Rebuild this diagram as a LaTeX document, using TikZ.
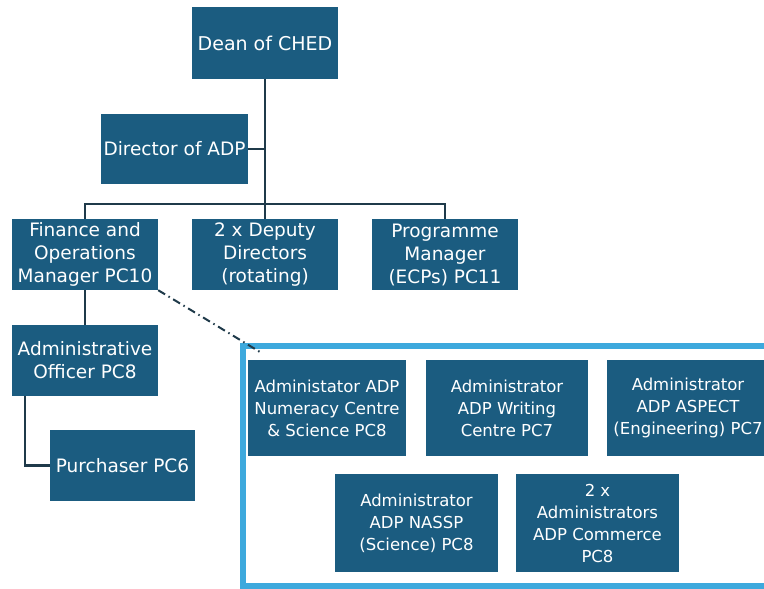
\documentclass[tikz,border=0pt]{standalone}
\usepackage{fontspec}
\setmainfont{DejaVu Sans}
\definecolor{boxblue}{HTML}{1B5C80}
\definecolor{frameblue}{HTML}{3DA9DD}
\definecolor{linedark}{HTML}{1F3A4A}

\begin{document}
\begin{tikzpicture}[x=1pt,y=1pt,
  post/.style={fill=boxblue, text=white, align=center, inner sep=0pt,
    minimum width=146, minimum height=71, font=\fontsize{18.5}{23}\selectfont},
  unit/.style={post, minimum width=162, minimum height=96, font=\fontsize{16.5}{22}\selectfont},
  link/.style={draw=linedark, line width=2.5}]
\useasboundingbox (0,0) rectangle (764,-589);
% top of the chart:
\node[post, minimum height=72, font=\fontsize{19}{23}\selectfont] (dean) at (265,-43) {Dean of CHED};
\node[post, minimum width=147, minimum height=70] (director) at (174.5,-149) {Director of ADP};
\node[post] (finance) at (85,-254.5) {Finance and\\Operations\\Manager PC10};
\node[post] (deputy) at (265,-254.5) {2 x Deputy\\Directors\\(rotating)};
\node[post] (progman) at (445,-254.5) {Programme\\Manager\\(ECPs) PC11};
% finance side:
\node[post] (adminoff) at (85,-360.5) {Administrative\\Officer PC8};
\node[post, minimum width=145] (purchaser) at (122.5,-465.5) {Purchaser PC6};
% ADP administrators:
\begin{scope}
\clip (0,0) rectangle (764,-589);
\draw[frameblue, line width=5.5] (243,-346) rectangle (780,-586);
\node[unit, minimum width=158] (numeracy) at (327,-408) {Administator ADP\\Numeracy Centre\\\& Science PC8};
\node[unit] (writing) at (507,-408) {Administrator\\ADP Writing\\Centre PC7};
\node[unit] (aspect) at (688,-408) {Administrator\\ADP ASPECT\\(Engineering) PC7};
\node[unit, minimum width=163, minimum height=98] (nassp) at (416.5,-523) {Administrator\\ADP NASSP\\(Science) PC8};
\node[unit, minimum width=163, minimum height=98] (commerce) at (597.5,-523) {2 x\\Administrators\\ADP Commerce\\PC8};
\end{scope}
\coordinate (frametip) at (260,-352);
% connectors:
\draw[link] (dean) -- (deputy);
\draw[link] (director.east) -- (director.east -| dean.south);
\draw[link] (finance.north) -- ++(0,15) -| (progman.north);
\draw[link] (finance) -- (adminoff);
\draw[link] ([xshift=13]adminoff.south west) |- (purchaser.west);
\draw[link, line width=2, dash pattern=on 8pt off 4pt on 1.5pt off 4pt] (finance.south east) -- (frametip);
\end{tikzpicture}
\end{document}
